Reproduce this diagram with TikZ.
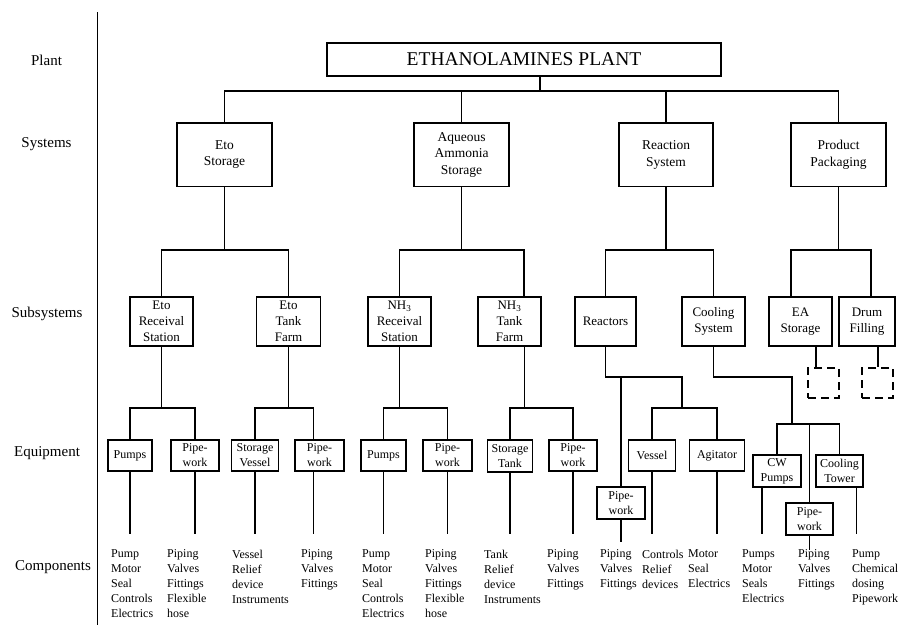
\documentclass[tikz,border=0pt]{standalone}
\usepackage{fontspec}
\setmainfont{Liberation Serif}
\usetikzlibrary{calc}
\begin{document}
\begin{tikzpicture}[x=1pt,y=-1pt,
  box/.style={draw, line width=1.3pt, inner sep=0pt, align=center},
  sysbox/.style={box, font=\fontsize{13.5}{16.5}\selectfont, minimum height=63.5pt},
  subbox/.style={box, font=\fontsize{13}{16}\selectfont, minimum height=49pt},
  eqbox/.style={box, font=\fontsize{12}{15}\selectfont, minimum height=31pt},
  ghost/.style={draw, line width=1.2pt, dash pattern=on 8pt off 5pt, inner sep=0pt,
                minimum width=31pt, minimum height=30pt},
  comp/.style={anchor=north west, align=left, inner sep=0pt, font=\fontsize{12}{15}\selectfont},
  level/.style={inner sep=0pt, font=\fontsize{15}{18}\selectfont},
  wire/.style={line width=1.1pt}]

\fill[white] (0,0) rectangle (899,625);
\useasboundingbox (0,0) rectangle (899,625);

% level captions and separator
\node[level] (lplant) at (46.5,60)  {Plant};
\node[level] (lsys)   at (46.5,144) {Systems};
\node[level] (lsub)   at (47,314)   {Subsystems};
\node[level] (leq)    at (47,453)   {Equipment};
\node[level] (lcomp)  at (53,567)   {Components};
\coordinate (sepT) at (97.5,12);
\coordinate (sepB) at (97.5,625);
\draw[line width=1.4pt] (sepT) -- (sepB);

% plant
\node[box, minimum width=394pt, minimum height=33pt, font=\fontsize{19.5}{22}\selectfont]
  (plant) at (524,59.5) {ETHANOLAMINES PLANT};

% systems
\node[sysbox, minimum width=95pt] (es) at (224.5,154.75) {Eto\\Storage};
\node[sysbox, minimum width=95pt] (aq) at (461.5,154.75) {Aqueous\\Ammonia\\Storage};
\node[sysbox, minimum width=94pt] (rs) at (666,154.75)   {Reaction\\System};
\node[sysbox, minimum width=95pt] (pp) at (838.5,154.75) {Product\\Packaging};

% subsystems
\node[subbox, minimum width=63pt] (er) at (161.5,321.5) {Eto\\Receival\\Station};
\node[subbox, minimum width=64pt] (et) at (288.5,321.5) {Eto\\Tank\\Farm};
\node[subbox, minimum width=63pt] (nr) at (399.5,321.5) {NH\textsubscript{3}\\Receival\\Station};
\node[subbox, minimum width=63pt] (nt) at (509.5,321.5) {NH\textsubscript{3}\\Tank\\Farm};
\node[subbox, minimum width=61pt] (re) at (605.5,321.5) {Reactors};
\node[subbox, minimum width=63pt] (cs) at (713.5,321.5) {Cooling\\System};
\node[subbox, minimum width=63pt] (ea) at (800.5,321.5) {EA\\Storage};
\node[subbox, minimum width=56pt] (df) at (867,321.5)   {Drum\\Filling};
\node[ghost] (eax) at (823.5,383) {};
\node[ghost] (dfx) at (877.5,383) {};

% equipment
\node[eqbox, minimum width=44pt] (p1)  at (130,455.5)   {Pumps};
\node[eqbox, minimum width=48pt] (p2)  at (195,455.5)   {Pipe-\\work};
\node[eqbox, minimum width=47pt] (sv)  at (255,455.5)   {Storage\\Vessel};
\node[eqbox, minimum width=49pt] (p3)  at (319.5,455.5) {Pipe-\\work};
\node[eqbox, minimum width=45pt] (np1) at (383.5,455.5) {Pumps};
\node[eqbox, minimum width=49pt] (np2) at (447.5,455.5) {Pipe-\\work};
\node[eqbox, minimum width=45pt, minimum height=32pt] (st) at (510,456) {Storage\\Tank};
\node[eqbox, minimum width=48pt] (np4) at (573,455.5)   {Pipe-\\work};
\node[eqbox, minimum width=48pt, minimum height=32pt] (rp) at (621,503) {Pipe-\\work};
\node[eqbox, minimum width=47pt] (ve)  at (652,455.5)   {Vessel};
\node[eqbox, minimum width=55pt] (ag)  at (717,455.5)   {Agitator};
\node[eqbox, minimum width=48pt, minimum height=32pt] (cw) at (777,471)   {CW\\Pumps};
\node[eqbox, minimum width=47pt, minimum height=32pt] (ct) at (839.5,471) {Cooling\\Tower};
\node[eqbox, minimum width=47pt, minimum height=32pt] (cp) at (809.5,519) {Pipe-\\work};

% components
\node[comp] (c1)  at (111,549.5) {Pump\\Motor\\Seal\\Controls\\Electrics};
\node[comp] (c2)  at (167,549.5) {Piping\\Valves\\Fittings\\Flexible\\hose};
\node[comp] (c3)  at (232,549.5) {Vessel\\Relief\\device\\Instruments};
\node[comp] (c4)  at (301,549.5) {Piping\\Valves\\Fittings};
\node[comp] (c5)  at (362,549.5) {Pump\\Motor\\Seal\\Controls\\Electrics};
\node[comp] (c6)  at (425,549.5) {Piping\\Valves\\Fittings\\Flexible\\hose};
\node[comp] (c7)  at (484,549.5) {Tank\\Relief\\device\\Instruments};
\node[comp] (c8)  at (547,549.5) {Piping\\Valves\\Fittings};
\node[comp] (c9)  at (600,549.5) {Piping\\Valves\\Fittings};
\node[comp] (c10) at (642,549.5) {Controls\\Relief\\devices};
\node[comp] (c11) at (688,549.5) {Motor\\Seal\\Electrics};
\node[comp] (c12) at (742,549.5) {Pumps\\Motor\\Seals\\Electrics};
\node[comp] (c13) at (798,549.5) {Piping\\Valves\\Fittings};
\node[comp] (c14) at (852,549.5) {Pump\\Chemical\\dosing\\Pipework};

% off-centre connection points
\coordinate (plantS) at ($(plant.south)+(16,0)$);
\coordinate (ntT) at ($(nt.north)+(14.5,0)$);
\coordinate (ntB) at ($(nt.south)+(15,0)$);
\coordinate (eaT) at ($(ea.north)+(-9.5,0)$);
\coordinate (eaB) at ($(ea.south)+(15.5,0)$);
\coordinate (dfT) at ($(df.north)+(4,0)$);
\coordinate (dfB) at ($(df.south)+(11,0)$);
\coordinate (p3T) at ($(p3.north)+(-6,0)$);
\coordinate (p3B) at ($(p3.south)+(-6,0)$);
\coordinate (cwB) at ($(cw.south)+(-15,0)$);
\coordinate (ctB) at ($(ct.south)+(17,0)$);

% bus levels
\coordinate (b0) at (0,91);
\coordinate (b1) at (0,250);
\coordinate (b3) at (0,377);
\coordinate (b2) at (0,408);
\coordinate (rj) at (682,377);
\coordinate (cj) at (792,424);
\coordinate (b4) at (0,534);
\coordinate (b5) at (0,542);

% plant -> systems
\draw[wire] (plantS) -- (plantS |- b0);
\draw[wire] (es.north) -- (es.north |- b0) -- (pp.north |- b0) -- (pp.north);
\draw[wire] (aq.north) -- (aq.north |- b0);
\draw[wire] (rs.north) -- (rs.north |- b0);

% systems -> subsystems
\draw[wire] (es.south) -- (es.south |- b1);
\draw[wire] (er.north) -- (er.north |- b1) -- (et.north |- b1) -- (et.north);
\draw[wire] (aq.south) -- (aq.south |- b1);
\draw[wire] (nr.north) -- (nr.north |- b1) -- (ntT |- b1) -- (ntT);
\draw[wire] (rs.south) -- (rs.south |- b1);
\draw[wire] (re.north) -- (re.north |- b1) -- (cs.north |- b1) -- (cs.north);
\draw[wire] (pp.south) -- (pp.south |- b1);
\draw[wire] (eaT) -- (eaT |- b1) -- (dfT |- b1) -- (dfT);
\draw[wire] (eaB) -- (eaB |- eax.north);
\draw[wire] (dfB) -- (dfB |- dfx.north);

% subsystems -> equipment
\draw[wire] (er.south) -- (er.south |- b2);
\draw[wire] (p1.north) -- (p1.north |- b2) -- (p2.north |- b2) -- (p2.north);
\draw[wire] (et.south) -- (et.south |- b2);
\draw[wire] (sv.north) -- (sv.north |- b2) -- (p3T |- b2) -- (p3T);
\draw[wire] (nr.south) -- (nr.south |- b2);
\draw[wire] (np1.north) -- (np1.north |- b2) -- (np2.north |- b2) -- (np2.north);
\draw[wire] (ntB) -- (ntB |- b2);
\draw[wire] (st.north) -- (st.north |- b2) -- (np4.north |- b2) -- (np4.north);
\draw[wire] (re.south) -- (re.south |- b3) -- (rj) -- (rj |- b2);
\draw[wire] (rp.north |- b3) -- (rp.north);
\draw[wire] (ve.north) -- (ve.north |- b2) -- (ag.north |- b2) -- (ag.north);
\draw[wire] (cs.south) -- (cs.south |- b3) -- (cj |- b3) -- (cj);
\draw[wire] (cw.north) -- (cw.north |- cj) -- (ct.north |- cj) -- (ct.north);
\draw[wire] (cp.north |- cj) -- (cp.north);

% equipment -> components
\foreach \n in {p1,p2,sv,np1,np2,st,np4,ve,ag}
  \draw[wire] (\n.south) -- (\n.south |- b4);
\draw[wire] (p3B) -- (p3B |- b4);
\draw[wire] (cwB) -- (cwB |- b4);
\draw[wire] (ctB) -- (ctB |- b4);
\draw[wire] (rp.south) -- (rp.south |- b5);
\draw[wire] (cp.south) -- (cp.south |- c13.north);

\end{tikzpicture}
\end{document}
